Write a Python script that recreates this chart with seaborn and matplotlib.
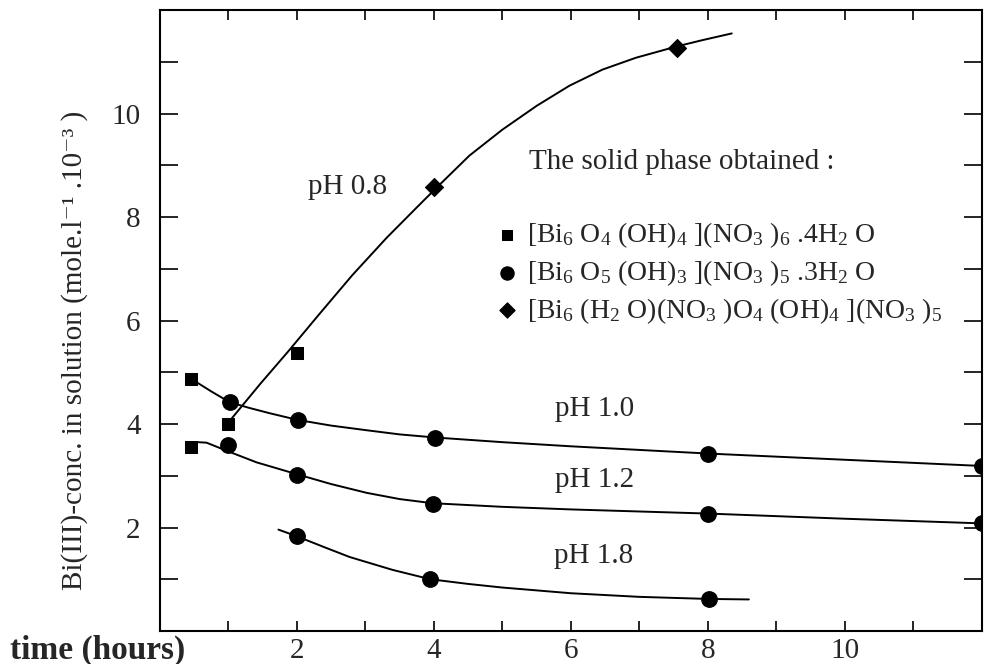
import numpy as np
import pandas as pd
import matplotlib as mpl
import matplotlib.pyplot as plt
import seaborn as sns

sns.set_theme(style="ticks")
mpl.rcParams["font.family"] = ["Liberation Serif", "DejaVu Serif"]
mpl.rcParams["mathtext.fontset"] = "custom"
mpl.rcParams["mathtext.rm"] = "Liberation Serif"
mpl.rcParams["mathtext.it"] = "Liberation Serif:italic"
mpl.rcParams["mathtext.default"] = "regular"

# solid phases (legend labels)
phase_sq = r"[Bi$_6$ O$_4$ (OH)$_4$ ](NO$_3$ )$_6$ .4H$_2$ O"
phase_ci = r"[Bi$_6$ O$_5$ (OH)$_3$ ](NO$_3$ )$_5$ .3H$_2$ O"
phase_di = r"[Bi$_6$ (H$_2$ O)(NO$_3$ )O$_4$ (OH)$_4$ ](NO$_3$ )$_5$"

# measured points (time in hours, conc in mole/l * 1e-3)
t_08_sq = [1.0, 2.0]
c_08_sq = [4.0, 5.37]
t_08_di = [4.0, 7.55]
c_08_di = [8.58, 11.27]

t_10_sq = [0.46]
c_10_sq = [4.87]
t_10_ci = [1.02, 2.01, 4.02, 8.0, 12.0]
c_10_ci = [4.42, 4.08, 3.74, 3.43, 3.19]

t_12_sq = [0.46]
c_12_sq = [3.56]
t_12_ci = [1.0, 2.0, 3.98, 8.0, 12.0]
c_12_ci = [3.6, 3.02, 2.46, 2.27, 2.08]

t_18_ci = [2.0, 3.95, 8.02]
c_18_ci = [1.83, 1.0, 0.62]

# hand drawn curves
t_08_fit = [0.98, 1.46, 1.87, 2.33, 2.81, 3.31, 3.79, 4.04, 4.52, 5.0, 5.5, 5.98, 6.46, 6.95, 7.55, 7.92, 8.35]
c_08_fit = [4.0, 4.77, 5.40, 6.13, 6.88, 7.60, 8.24, 8.57, 9.19, 9.69, 10.15, 10.54, 10.85, 11.08, 11.30, 11.42, 11.55]
t_10_fit = [0.46, 0.75, 1.02, 1.31, 1.6, 2.01, 2.5, 3.02, 3.5, 4.02, 5.0, 6.0, 7.0, 8.0, 10.0, 12.0]
c_10_fit = [4.87, 4.63, 4.42, 4.31, 4.21, 4.08, 3.97, 3.88, 3.80, 3.74, 3.65, 3.57, 3.50, 3.43, 3.31, 3.19]
t_12_fit = [0.55, 0.68, 1.0, 1.41, 2.0, 2.5, 3.02, 3.5, 3.98, 5.0, 6.0, 8.0, 10.0, 12.0]
c_12_fit = [3.65, 3.64, 3.47, 3.26, 3.03, 2.84, 2.67, 2.55, 2.47, 2.40, 2.35, 2.27, 2.17, 2.08]
t_18_fit = [1.73, 2.0, 2.4, 2.77, 3.4, 3.95, 4.5, 5.0, 6.0, 7.0, 8.0, 8.6]
c_18_fit = [1.96, 1.83, 1.62, 1.43, 1.18, 1.0, 0.91, 0.84, 0.73, 0.66, 0.62, 0.61]

ph_labels = ["pH 0.8", "pH 1.0", "pH 1.2", "pH 1.8"]
ph_label_x = [2.74, 6.34, 6.34, 6.34]
ph_label_y = [8.58, 4.29, 2.92, 1.44]

sq = pd.DataFrame({"t": t_08_sq + t_10_sq + t_12_sq, "c": c_08_sq + c_10_sq + c_12_sq})
ci = pd.DataFrame({"t": t_10_ci + t_12_ci + t_18_ci, "c": c_10_ci + c_12_ci + c_18_ci})
di = pd.DataFrame({"t": t_08_di, "c": c_08_di})

fits = pd.concat([
    pd.DataFrame({"t": t_08_fit, "c": c_08_fit, "ph": "0.8"}),
    pd.DataFrame({"t": t_10_fit, "c": c_10_fit, "ph": "1.0"}),
    pd.DataFrame({"t": t_12_fit, "c": c_12_fit, "ph": "1.2"}),
    pd.DataFrame({"t": t_18_fit, "c": c_18_fit, "ph": "1.8"}),
], ignore_index=True)

fig = plt.figure(figsize=(9.9, 6.64), dpi=100)
ax = fig.add_axes([0.1616, 0.0497, 0.830, 0.935])

sns.lineplot(data=fits, x="t", y="c", units="ph", estimator=None, sort=False,
             color="black", lw=1.4, ax=ax, legend=False)
sns.scatterplot(data=sq, x="t", y="c", marker="s", s=85, color="black",
                edgecolor="black", label=phase_sq, ax=ax, zorder=3)
sns.scatterplot(data=ci, x="t", y="c", marker="o", s=125, color="black",
                edgecolor="black", label=phase_ci, ax=ax, zorder=3)
sns.scatterplot(data=di, x="t", y="c", marker="D", s=85, color="black",
                edgecolor="black", label=phase_di, ax=ax, zorder=3)

ax.set_xlim(0, 12)
ax.set_ylim(0, 12)
ax.set_xticks(range(1, 12))
ax.set_yticks(range(1, 12))
ax.set_xticklabels([str(v) if v % 2 == 0 else "" for v in range(1, 12)])
ax.set_yticklabels([str(v) if v % 2 == 0 else "" for v in range(1, 12)])
ax.tick_params(axis="both", direction="in", labelsize=21, width=1.2, color="black")
ax.tick_params(axis="y", length=13, pad=14)
ax.tick_params(axis="x", length=7, pad=5)
ax.tick_params(top=True, right=True)
for sp in ax.spines.values():
    sp.set_linewidth(1.5)
    sp.set_color("black")
ax.set_xlabel("")
ax.set_ylabel("Bi(III)-conc. in solution (mole.l⁻¹ .10⁻³ )", fontsize=21)
ax.yaxis.set_label_coords(-0.088, 0.452)

for lab, x, y in zip(ph_labels, ph_label_x, ph_label_y):
    ax.text(x, y, lab, fontsize=21, ha="center", va="center")

ax.text(5.39, 9.06, "The solid phase obtained :", fontsize=21, ha="left", va="center")
leg = ax.legend(loc="upper left", bbox_to_anchor=(0.387, 0.684), frameon=False,
                fontsize=20, handletextpad=0.15, labelspacing=0.29,
                borderpad=0, handlelength=1.1, markerscale=0.85)

fig.text(0.01, 0.021, "time (hours)", fontsize=24, fontweight="bold", ha="left", va="center")

fig.savefig("out.png", dpi=100)
